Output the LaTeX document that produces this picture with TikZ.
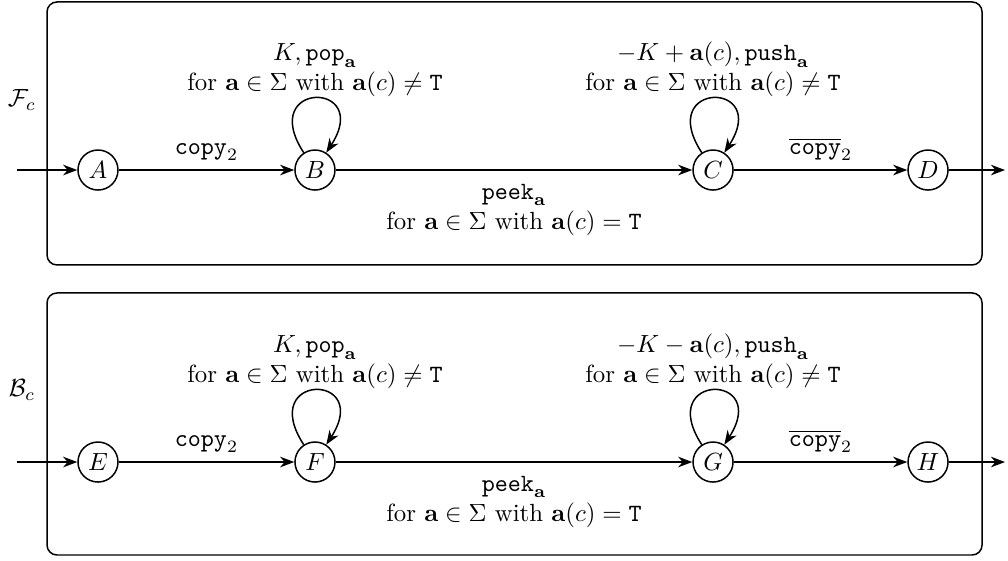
\documentclass[tikz,border=0pt]{standalone}
\usepackage{amsmath}
\usepackage{amssymb}
\usepackage{tikz}
\usetikzlibrary{arrows.meta}

\tikzset{
    st/.style={draw, circle, semithick, minimum size=0.566cm, inner sep=0pt},
    tr/.style={semithick, -Stealth},
    selfloop/.style={loop, out=123, in=57, min distance=1.22cm},
    frame/.style={draw, semithick, rounded corners=4pt},
    lbl/.style={align=center}
}

\begin{document}
\begin{tikzpicture}
        \useasboundingbox (0,0) rectangle (14.257,7.921);

        % forward automaton
        \draw [frame] (0.665,4.173) rectangle (13.890,7.893);
        \node at (0.311,6.506) {$\mathcal{F}_c$};
        \node [st] (A) at (1.386,5.516) {$A$};
        \node [st] (B) at (4.455,5.516) {$B$};
        \node [st] (C) at (10.085,5.516) {$C$};
        \node [st] (D) at (13.126,5.516) {$D$};
        \coordinate (inA) at (0.240,5.516);
        \coordinate (outD) at (14.215,5.516);

        \draw [tr] (inA) -- (A);
        \draw [tr] (A) -- (B) node [midway, above] {$\texttt{copy}_2$};
        \draw [tr] (B) -- (C) node [midway, below=2pt, lbl] {$\texttt{peek}_{\mathbf{a}}$\\ for $\mathbf{a}\in\Sigma$ with $\mathbf{a}(c)=\texttt{T}$};
        \draw [tr] (C) -- (D) node [midway, above] {$\overline{\texttt{copy}}_2$};
        \draw [tr] (D) -- (outD);
        \draw [tr] (B) edge [selfloop] node [above=-3pt, lbl] {$K,\texttt{pop}_{\mathbf{a}}$\\ for $\mathbf{a}\in\Sigma$ with $\mathbf{a}(c)\neq\texttt{T}$} (B);
        \draw [tr] (C) edge [selfloop] node [above=-3pt, lbl] {$-K+\mathbf{a}(c),\texttt{push}_{\mathbf{a}}$\\ for $\mathbf{a}\in\Sigma$ with $\mathbf{a}(c)\neq\texttt{T}$} (C);

        % backward automaton
        \draw [frame] (0.665,0.071) rectangle (13.890,3.777);
        \node at (0.311,2.405) {$\mathcal{B}_c$};
        \node [st] (E) at (1.386,1.386) {$E$};
        \node [st] (F) at (4.455,1.386) {$F$};
        \node [st] (G) at (10.085,1.386) {$G$};
        \node [st] (H) at (13.126,1.386) {$H$};
        \coordinate (inE) at (0.240,1.386);
        \coordinate (outH) at (14.215,1.386);

        \draw [tr] (inE) -- (E);
        \draw [tr] (E) -- (F) node [midway, above] {$\texttt{copy}_2$};
        \draw [tr] (F) -- (G) node [midway, below=2pt, lbl] {$\texttt{peek}_{\mathbf{a}}$\\ for $\mathbf{a}\in\Sigma$ with $\mathbf{a}(c)=\texttt{T}$};
        \draw [tr] (G) -- (H) node [midway, above] {$\overline{\texttt{copy}}_2$};
        \draw [tr] (H) -- (outH);
        \draw [tr] (F) edge [selfloop] node [above=-3pt, lbl] {$K,\texttt{pop}_{\mathbf{a}}$\\ for $\mathbf{a}\in\Sigma$ with $\mathbf{a}(c)\neq\texttt{T}$} (F);
        \draw [tr] (G) edge [selfloop] node [above=-3pt, lbl] {$-K-\mathbf{a}(c),\texttt{push}_{\mathbf{a}}$\\ for $\mathbf{a}\in\Sigma$ with $\mathbf{a}(c)\neq\texttt{T}$} (G);
    \end{tikzpicture}
\end{document}
